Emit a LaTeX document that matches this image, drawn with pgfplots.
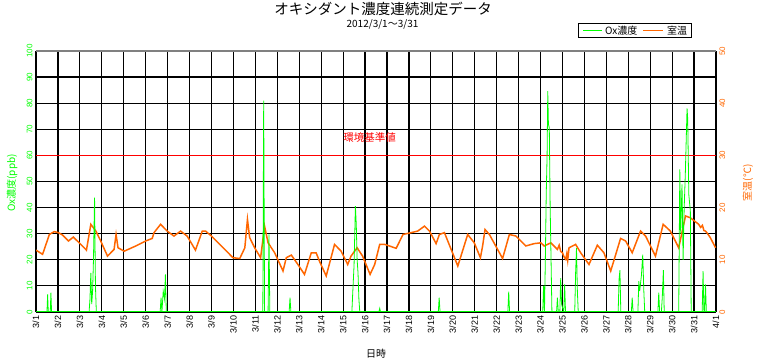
\documentclass[border=0pt]{standalone}
\usepackage{fontspec}
\setmainfont{Liberation Sans}
\newfontfamily\jp{Noto Sans CJK JP}
\usepackage{pgfplots}
\pgfplotsset{compat=1.18}
\definecolor{oxg}{RGB}{0,255,0}
\definecolor{tmp}{RGB}{255,102,0}
\definecolor{stdred}{RGB}{255,0,0}
\pgfplotsset{base/.style={scale only axis, width=680pt, height=261pt,
  at={(36pt,49pt)}, anchor=south west, xmin=0, xmax=31,
  major tick length=0pt, /pgf/number format/assume math mode=true}}
\begin{document}
\begin{tikzpicture}
\useasboundingbox (0,0) rectangle (757pt,361pt);
% grid, frame, left ticks, x ticks
\begin{axis}[base, ymin=0, ymax=100, ytick={0,10,...,100},
  xtick={0,1,...,31},
  xticklabels={3/1,3/2,3/3,3/4,3/5,3/6,3/7,3/8,3/9,3/10,3/11,3/12,3/13,3/14,3/15,3/16,3/17,3/18,3/19,3/20,3/21,3/22,3/23,3/24,3/25,3/26,3/27,3/28,3/29,3/30,3/31,4/1},
  grid=major, grid style={black, line width=1.2pt},
  axis line style={draw=none},
  yticklabel style={rotate=90, anchor=south, text=oxg, font=\fontsize{8}{8}\selectfont},
  xticklabel style={rotate=90, anchor=east, font=\fontsize{9}{9}\selectfont}]
\addplot[gray, line width=1.2pt] coordinates {(0,100) (31,100)};
\addplot[stdred, line width=1.2pt] coordinates {(0,60) (31,60)};
\end{axis}
% temperature, right axis
\begin{axis}[base, ymin=0, ymax=50, ytick={0,10,...,50},
  axis y line*=right, axis x line=none, axis line style={draw=none},
  yticklabel style={rotate=90, anchor=north, text=tmp, font=\fontsize{8}{8}\selectfont}]
\addplot[tmp, line width=1.5pt] coordinates {
(0,11.85) (0.30,11.05) (0.61,14.85) (0.83,15.4) (1.02,15.2) (1.21,14.75) (1.48,13.6)
(1.70,14.35) (1.97,13.25) (2.30,11.85) (2.50,16.8) (2.73,15.5) (2.95,13.6) (3.26,10.7)
(3.56,12) (3.65,14.85) (3.74,12.3) (4.02,11.65) (4.55,12.65) (5.0,13.6) (5.30,14.1)
(5.38,15.2) (5.68,16.8) (5.98,15.5) (6.29,14.55) (6.59,15.5) (6.89,14.55) (7.27,11.85)
(7.58,15.5) (7.73,15.5) (8.0,14.55) (8.38,12.95) (8.98,10.4) (9.29,10.25) (9.52,12.3)
(9.64,17.75) (9.74,14.25) (9.97,12.3) (10.24,10.4) (10.42,16.45) (10.58,13.25)
(10.88,11.35) (11.26,7.85) (11.41,10.4) (11.64,10.9) (11.94,9.1) (12.24,7.2)
(12.55,11.35) (12.77,11.35) (12.92,9.75) (13.23,6.9) (13.61,12.95) (13.91,11.65)
(14.21,9.1) (14.36,10.7) (14.64,12.3) (14.89,10.7) (15.23,7.2) (15.44,9.1)
(15.67,12.95) (15.9,12.95) (16.42,12.2) (16.73,14.85) (17.1,15.2) (17.4,15.5)
(17.71,16.45) (17.94,15.5) (18.24,13.1) (18.39,14.85) (18.62,15.2) (19.23,8.8)
(19.68,14.85) (19.98,13.25) (20.26,10.4) (20.36,12.65) (20.47,15.8) (20.67,14.85)
(21.27,10.25) (21.58,14.85) (21.88,14.55) (22.33,12.65) (22.71,13.1) (23.02,13.25)
(23.17,12.65) (23.47,13.25) (23.77,12) (23.85,12.8) (23.92,11.6) (24.0,11.35) (24.07,10.6)
(24.15,10.1) (24.2,11.2) (24.24,9.9) (24.3,12.3) (24.6,12.95) (24.83,11.35) (25.21,9.1)
(25.59,12.8) (25.89,11.35) (26.2,7.85) (26.65,14.1) (26.88,13.6) (27.18,11.35)
(27.56,15.5) (27.79,14.55) (28.24,10.7) (28.59,16.8) (28.92,15.5) (29.3,12.3)
(29.61,18.4) (29.83,18.05) (30.21,16.8) (30.3,16.2) (30.38,16.6) (30.45,15.6) (30.52,15.5)
(30.6,15.1) (30.74,14.25) (30.98,12.3)};
\end{axis}
% Ox concentration
\begin{axis}[base, ymin=0, ymax=100, hide axis]
\addplot[oxg, line width=0.8pt] coordinates {
(0,0) (0.5,0) (0.53,6.7) (0.56,0) (0.65,0) (0.68,7.4) (0.71,0)
(2.42,0) (2.46,5) (2.5,15) (2.54,3) (2.58,8) (2.62,20) (2.67,43.8) (2.71,10) (2.75,0)
(5.66,0) (5.7,5.5) (5.74,0) (5.8,8) (5.86,5) (5.9,14.4) (5.94,0)
(10.34,0) (10.38,81) (10.42,0) (10.58,0) (10.62,29.7) (10.66,0)
(11.54,0) (11.58,5.5) (11.62,0)
(14.4,0) (14.44,7.4) (14.5,18) (14.56,40.6) (14.6,33.6) (14.64,20) (14.68,15) (14.72,5) (14.76,0)
(15.63,0) (15.67,1.4) (15.71,0)
(18.34,0) (18.38,5.5) (18.42,0)
(21.51,0) (21.55,7.8) (21.59,0)
(23.1,0) (23.14,10) (23.18,0) (23.22,20) (23.26,45) (23.3,60) (23.33,84.6) (23.36,72) (23.4,70.6) (23.44,40) (23.48,20) (23.52,0)
(23.73,0) (23.77,5.5) (23.81,0) (23.88,0) (23.92,13) (23.96,3) (24.06,0) (24.1,10.6) (24.14,0)
(24.56,0) (24.6,15) (24.64,24.6) (24.68,8) (24.72,0)
(26.54,0) (26.58,12.5) (26.62,16) (26.66,0)
(27.14,0) (27.18,5.5) (27.22,0)
(27.44,0) (27.48,11.8) (27.52,8) (27.6,14) (27.66,22) (27.71,8) (27.75,0)
(28.35,0) (28.39,7.4) (28.43,0) (28.51,0) (28.55,5.5) (28.6,16) (28.64,0)
(29.3,0) (29.35,54.6) (29.39,30) (29.45,48.9) (29.5,20) (29.55,40) (29.6,52.7) (29.68,78) (29.71,74) (29.76,45) (29.83,38.7) (29.87,0)
(30.37,0) (30.41,15.7) (30.45,0) (30.48,0) (30.52,10.6) (30.56,0)
(31,0)};
\addplot[oxg, line width=2pt] coordinates {(0,0) (31,0)};
\end{axis}
% texts
\node[font=\jp\fontsize{14.5}{14.5}\selectfont] at (383pt,352pt) {オキシダント濃度連続測定データ};
\node[font=\jp\fontsize{10}{10}\selectfont] at (382.5pt,337pt) {2012/3/1～3/31};
\draw[black, line width=1pt] (578pt,323pt) rectangle (691pt,337pt);
\draw[oxg, line width=1pt] (583pt,330pt) -- (602pt,330pt);
\node[font=\jp\fontsize{10}{10}\selectfont, anchor=west, inner sep=0pt] at (605pt,330pt) {Ox濃度};
\draw[tmp, line width=1pt] (643pt,330pt) -- (663pt,330pt);
\node[font=\jp\fontsize{10}{10}\selectfont, anchor=west, inner sep=0pt] at (667pt,330pt) {室温};
\node[font=\jp\fontsize{10.5}{10.5}\selectfont, text=stdred] at (369.5pt,224pt) {環境基準値};
\node[font=\jp\fontsize{10}{10}\selectfont] at (376pt,7pt) {日時};
\node[font=\jp\fontsize{10}{10}\selectfont, text=oxg, rotate=90] at (12pt,178pt) {Ox濃度(ppb)};
\node[font=\jp\fontsize{10}{10}\selectfont, text=tmp, rotate=90] at (748pt,178pt) {室温(℃)};
\end{tikzpicture}
\end{document}
